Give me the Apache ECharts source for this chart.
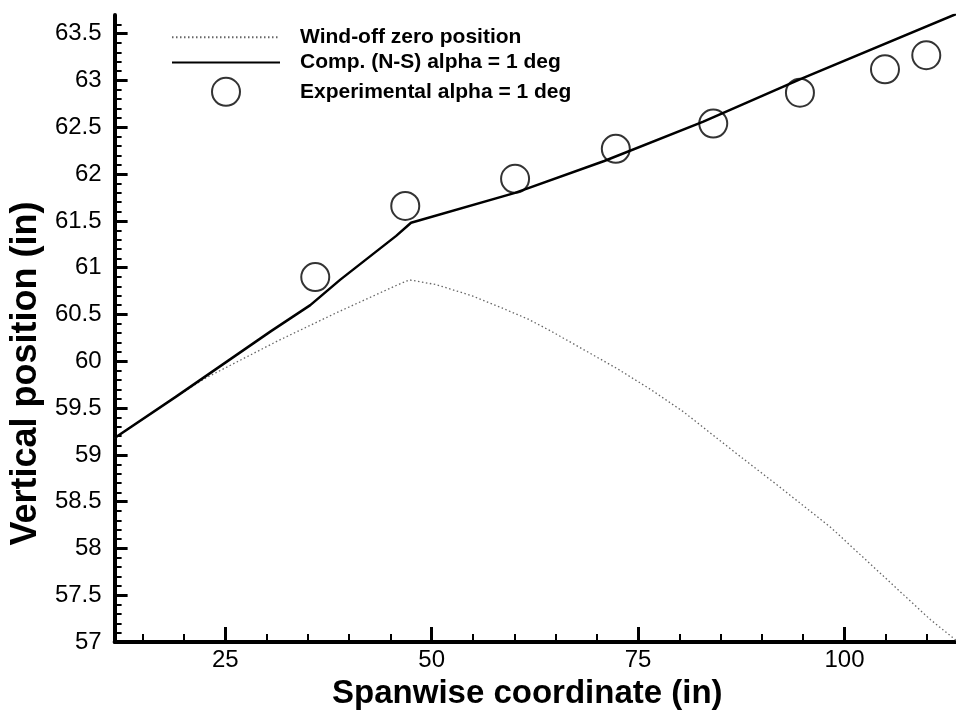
<!DOCTYPE html>
<html>
<head>
<meta charset="utf-8">
<script src="https://cdn.jsdelivr.net/npm/echarts@6/dist/echarts.min.js"></script>
<style>
  html, body { margin: 0; padding: 0; background: #fff; }
  #chart { width: 956px; height: 715px; }
</style>
</head>
<body>
<div id="chart"></div>
<script>
// wind-off zero position (dotted)
const windOffX = [11.6, 19.0, 22.6, 31.4, 38.5, 45.7, 47.3, 50.5, 54.9, 58.5, 61.7, 64.5, 68.5, 72.5, 76.5, 80.5, 86.4, 92.4, 98.4, 104.4, 110.4, 113.5];
const windOffY = [59.18, 59.62, 59.82, 60.22, 60.52, 60.81, 60.87, 60.82, 60.70, 60.57, 60.45, 60.32, 60.12, 59.92, 59.70, 59.46, 59.05, 58.64, 58.22, 57.73, 57.24, 57.02];

// computed N-S, alpha = 1 deg
const compX = [11.6, 19.0, 30.5, 35.3, 38.9, 45.7, 47.5, 60.1, 70.9, 82.9, 94.8, 113.5];
const compY = [59.18, 59.62, 60.32, 60.60, 60.87, 61.34, 61.48, 61.80, 62.14, 62.56, 63.02, 63.71];

// experiment, alpha = 1 deg
const expX = [35.9, 46.8, 60.1, 72.3, 84.1, 94.6, 104.9, 109.9];
const expY = [60.90, 61.66, 61.95, 62.27, 62.54, 62.87, 63.12, 63.27];

const xMajor = [25, 50, 75, 100];
const yMajor = [57, 57.5, 58, 58.5, 59, 59.5, 60, 60.5, 61, 61.5, 62, 62.5, 63, 63.5];

const seriesNames = ['Wind-off zero position', 'Comp. (N-S) alpha = 1 deg', 'Experimental alpha = 1 deg'];

// minor ticks (every 5 in x, every 0.1 in y), majors left out
const xMinor = [];
for (let v = 15; v <= 110; v += 5) if (v % 25 !== 0) xMinor.push(v);
const yMinor = [];
for (let i = 571; i <= 636; i++) if (i % 5 !== 0) yMinor.push(i / 10);

const font = '"Liberation Sans", Arial, Helvetica, sans-serif';
const pares = (xs, ys) => xs.map((x, i) => [x, ys[i]]);

const chart = echarts.init(document.getElementById('chart'));

const eixoX = {
  type: 'value', min: 11.6, max: 113.5, position: 'bottom',
  splitLine: { show: false }
};
const eixoY = {
  type: 'value', min: 57, max: 63.7, position: 'left',
  splitLine: { show: false }
};

chart.setOption({
  animation: false,
  backgroundColor: '#fff',
  grid: { left: 105, right: 0, top: 15, bottom: 61 },
  legend: {
    orient: 'vertical', left: 166, top: 21,
    itemWidth: 108, itemHeight: 28, itemGap: 3,
    selectedMode: false,
    textStyle: { fontFamily: font, fontSize: 21, fontWeight: 'bold', color: '#000', padding: [0, 0, 0, 15] },
    data: [
      { name: seriesNames[0], itemStyle: { opacity: 0 } },
      { name: seriesNames[1], itemStyle: { opacity: 0 } },
      { name: seriesNames[2], itemStyle: { color: 'rgba(0,0,0,0)', borderColor: '#000', borderWidth: 2 } }
    ]
  },
  xAxis: [
    Object.assign({}, eixoX, {
      name: 'Spanwise coordinate (in)', nameLocation: 'middle', nameGap: 26,
      nameTextStyle: { fontFamily: font, fontSize: 33, fontWeight: 'bold', color: '#000', padding: [0, 16, 0, 0] },
      axisLine: { lineStyle: { color: '#000', width: 4 } },
      axisTick: { inside: true, length: 15, customValues: xMajor, lineStyle: { color: '#000', width: 3 } },
      axisLabel: { customValues: xMajor, fontFamily: font, fontSize: 24, color: '#000', margin: 6 }
    }),
    Object.assign({}, eixoX, {
      axisLine: { show: false },
      axisTick: { inside: true, length: 8, customValues: xMinor, lineStyle: { color: '#000', width: 2 } },
      axisLabel: { show: false }
    })
  ],
  yAxis: [
    Object.assign({}, eixoY, {
      name: 'Vertical position (in)', nameLocation: 'middle', nameGap: 59, nameRotate: 90,
      nameTextStyle: { fontFamily: font, fontSize: 36, fontWeight: 'bold', color: '#000', padding: [0, 90, 0, 0] },
      axisLine: { lineStyle: { color: '#000', width: 4 } },
      axisTick: { inside: true, length: 13, customValues: yMajor, lineStyle: { color: '#000', width: 3 } },
      axisLabel: { customValues: yMajor, fontFamily: font, fontSize: 24, color: '#000', margin: 13 }
    }),
    Object.assign({}, eixoY, {
      axisLine: { show: false },
      axisTick: { inside: true, length: 7, customValues: yMinor, lineStyle: { color: '#000', width: 2 } },
      axisLabel: { show: false }
    })
  ],
  series: [
    {
      name: seriesNames[0], type: 'line', symbol: 'none',
      data: pares(windOffX, windOffY),
      lineStyle: { color: '#666', width: 1.3, type: [1.5, 2.5] }
    },
    {
      name: seriesNames[1], type: 'line', symbol: 'none',
      data: pares(compX, compY),
      lineStyle: { color: '#000', width: 2.5 }
    },
    {
      name: seriesNames[2], type: 'scatter', symbol: 'circle', symbolSize: 28,
      data: pares(expX, expY),
      itemStyle: { color: 'rgba(0,0,0,0)', borderColor: '#000', borderWidth: 2 }
    }
  ]
});
</script>
</body>
</html>
